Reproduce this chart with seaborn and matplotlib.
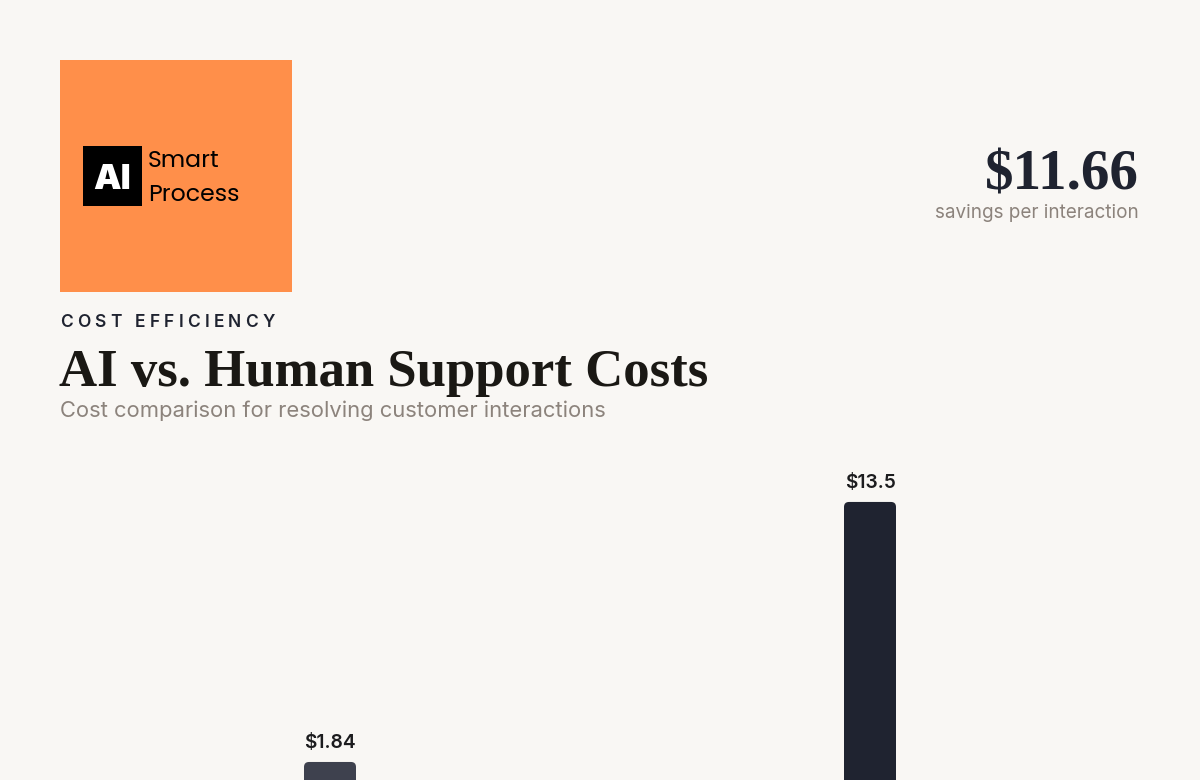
import matplotlib
matplotlib.use("Agg")
import matplotlib.pyplot as plt
import seaborn as sns
import pandas as pd
from matplotlib.patches import FancyBboxPatch, Rectangle

# ---- data ----
categories = ["AI", "Human"]
costs = [1.84, 13.5]
value_labels = ["$1.84", "$13.5"]
bar_colors = ["#3e414e", "#1f2330"]
savings_label = "$11.66"

BG = "#f9f7f4"
W, H = 1200, 780

sns.set_theme(style="white")
plt.rcParams["font.family"] = ["Inter", "DejaVu Sans"]

fig = plt.figure(figsize=(12, 7.8), dpi=100, facecolor=BG)

def fx(x):
    return x / W

def fy(y):
    return 1 - y / H

# ---- bar axes (extends below the canvas, as in the reference) ----
px_per_unit = 22.3
base_px = 803
top_val = 15.0
top_px = base_px - top_val * px_per_unit
ax = fig.add_axes([fx(60), fy(base_px), (1140 - 60) / W, (base_px - top_px) / H])
ax.set_facecolor(BG)
df = pd.DataFrame({"category": categories, "cost": costs})
sns.barplot(data=df, x="category", y="cost", hue="category", palette=bar_colors,
            width=0.0963, legend=False, ax=ax, saturation=1)
ax.set_xlim(-0.5, 1.5)
ax.set_ylim(0, top_val)
for s in ax.spines.values():
    s.set_visible(False)
ax.set_xticks([])
ax.set_yticks([])
ax.set_xlabel("")
ax.set_ylabel("")

# round the bar corners
xunit_px = 540.0
aspect = xunit_px / px_per_unit
for p, col, lab in zip(list(ax.patches), bar_colors, value_labels):
    x0, w, h = p.get_x(), p.get_width(), p.get_height()
    p.set_visible(False)
    r = 5 / xunit_px
    fb = FancyBboxPatch((x0, 0), w, h, boxstyle=f"round,pad=0,rounding_size={r}",
                        mutation_aspect=aspect, facecolor=col, edgecolor="none")
    ax.add_patch(fb)
    ax.annotate(lab, xy=(x0 + w / 2, h), xytext=(0, 14 * 0.72), textcoords="offset points",
                ha="center", va="baseline", fontsize=13.8, fontweight="semibold",
                color="#1c1c1e", annotation_clip=False)

# ---- logo ----
fig.patches.append(Rectangle((fx(60), fy(292)), 232 / W, 232 / H, transform=fig.transFigure,
                             facecolor="#ff8f4a", edgecolor="none"))
fig.patches.append(Rectangle((fx(83), fy(206)), 59 / W, 60 / H, transform=fig.transFigure,
                             facecolor="#000000", edgecolor="none"))
fig.text(fx(112), fy(189), "AI", ha="center", va="baseline", fontsize=25,
         fontweight="black", color="white", family=["Inter", "DejaVu Sans"])
fig.text(fx(148), fy(167), "Smart", ha="left", va="baseline", fontsize=17, color="#000000",
         family=["Poppins", "Inter", "DejaVu Sans"])
fig.text(fx(148), fy(201), "Process", ha="left", va="baseline", fontsize=17, color="#000000",
         family=["Poppins", "Inter", "DejaVu Sans"])

# ---- tracked kicker text ----
renderer = fig.canvas.get_renderer()

def tracked(text, x_px, y_px, spacing_px, **kw):
    x = x_px
    for ch in text:
        t = fig.text(fx(x), fy(y_px), ch, ha="left", va="baseline", **kw)
        bb = t.get_window_extent(renderer=renderer)
        if ch == " ":
            adv = kw.get("fontsize", 12) / 0.72 * 0.28
        else:
            adv = bb.width
        x += adv + spacing_px

tracked("COST EFFICIENCY", 60, 327, 4.25, fontsize=12.5, fontweight="semibold", color="#1f2330")

# ---- title & subtitle ----
fig.text(fx(59), fy(386), "AI vs. Human Support Costs", ha="left", va="baseline",
         fontsize=38, fontweight="bold", color="#1a1814",
         family=["Liberation Serif", "DejaVu Serif"])
fig.text(fx(60), fy(417), "Cost comparison for resolving customer interactions",
         ha="left", va="baseline", fontsize=15.8, color="#8c837c")

# ---- big stat ----
fig.text(fx(1139), fy(189), savings_label, ha="right", va="baseline", fontsize=41,
         fontweight="bold", color="#1f2330", family=["Liberation Serif", "DejaVu Serif"])
fig.text(fx(1139), fy(218), "savings per interaction", ha="right", va="baseline",
         fontsize=13.6, color="#8c837c")

fig.savefig("out.png", dpi=100, facecolor=BG)
